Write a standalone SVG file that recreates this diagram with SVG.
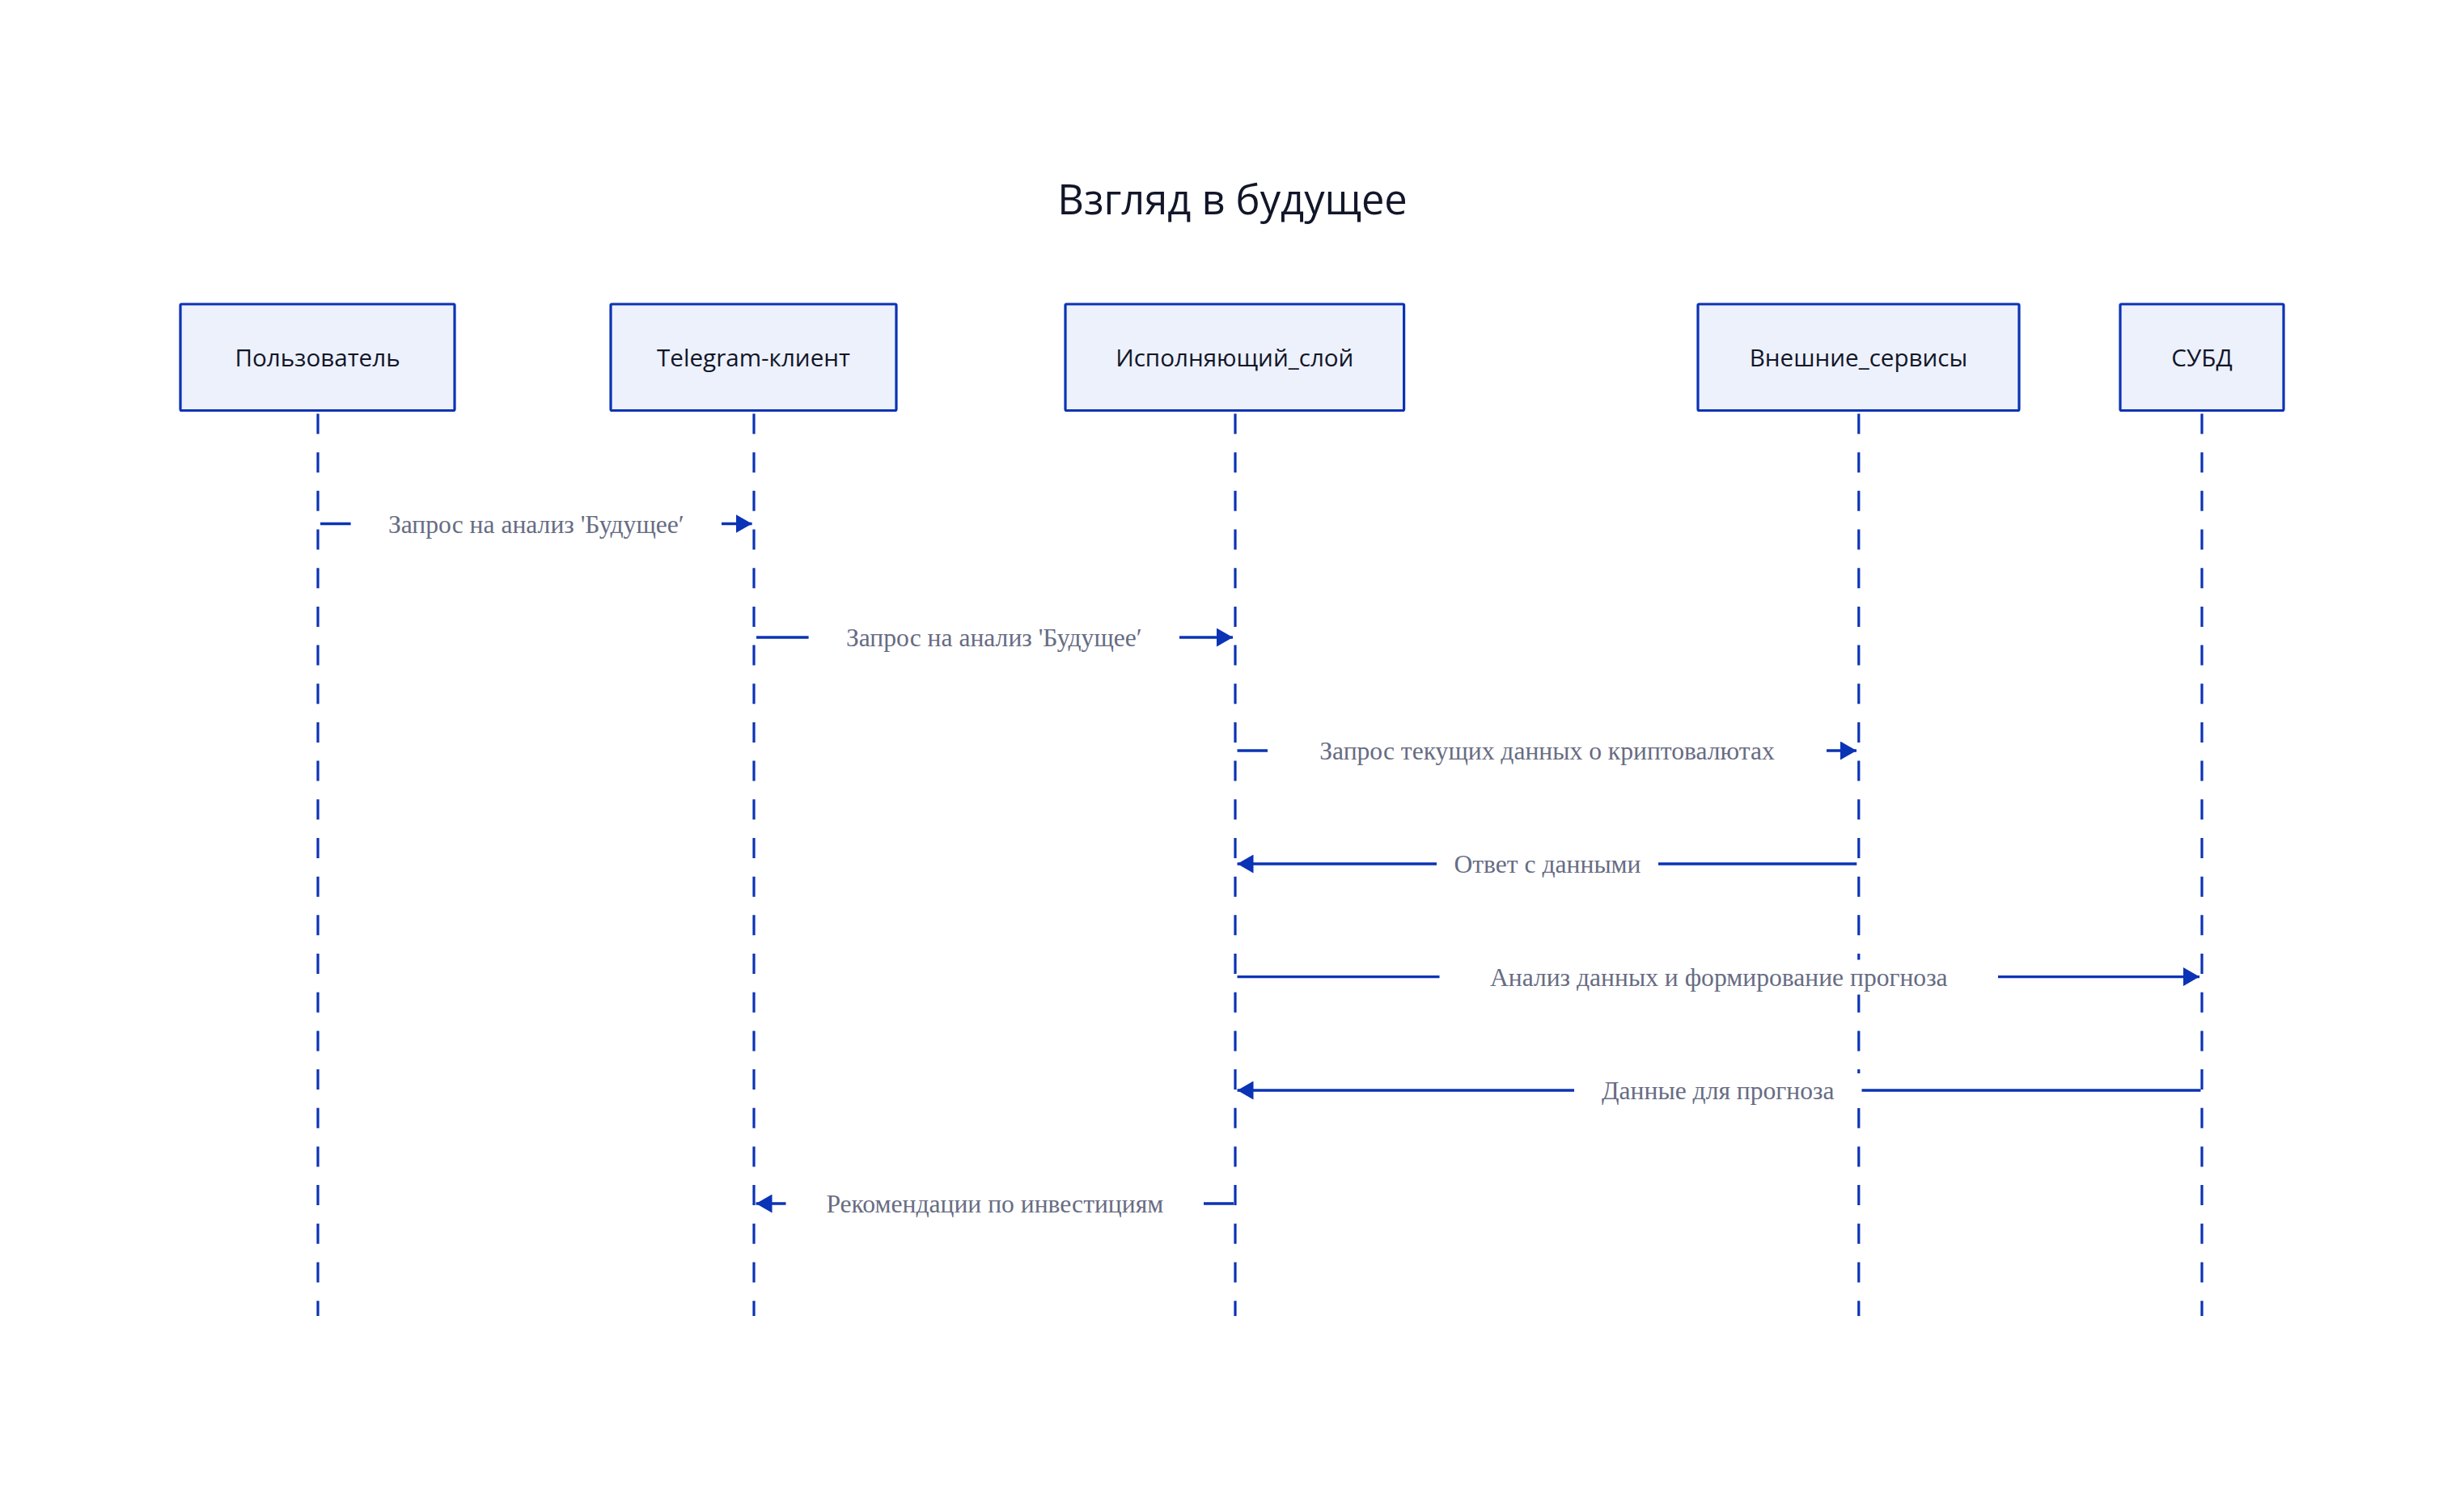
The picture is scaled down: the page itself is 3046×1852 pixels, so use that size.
<svg xmlns="http://www.w3.org/2000/svg" width="3046" height="1852" viewBox="0 0 3046 1852">
<defs>
<style>
.bg{fill:#ffffff}
.title{font-family:"Open Sans","Noto Sans",sans-serif;font-size:50.6px;fill:#121629;text-anchor:middle}
.actor rect{fill:#edf1fc;stroke:#0b33b5;stroke-width:3.2}
.actor text{font-family:"Open Sans","Noto Sans",sans-serif;font-size:29.6px;fill:#121629;text-anchor:middle}
.life{stroke:#0b33b5;stroke-width:3.2;stroke-dasharray:25 22.68;fill:none}
.msg{stroke:#0b33b5;stroke-width:3.4;fill:none}
.lblbg{fill:#ffffff}
.lbl{font-family:"Liberation Serif","Times New Roman",serif;font-size:31.6px;fill:#676c83;text-anchor:middle}
</style>
<marker id="arr" viewBox="0 0 20 23" refX="20" refY="11.5" markerWidth="20" markerHeight="23" markerUnits="userSpaceOnUse" orient="auto">
<path d="M0,0 L20,11.5 L0,23 Z" fill="#0b33b5"/>
</marker>
</defs>
<rect class="bg" x="0" y="0" width="3046" height="1852"/>
<text class="title" x="1523.5" y="265">Взгляд в будущее</text>

<g id="lifelines">
<line class="life" x1="393" y1="511.5" x2="393" y2="1627"/>
<line class="life" x1="932" y1="511.5" x2="932" y2="1627"/>
<line class="life" x1="1527" y1="511.5" x2="1527" y2="1627"/>
<line class="life" x1="2297.8" y1="511.5" x2="2297.8" y2="1627"/>
<line class="life" x1="2722" y1="511.5" x2="2722" y2="1627"/>
</g>

<g id="actor-user" class="actor">
<rect x="223" y="376" width="339" height="131.5" rx="1.5"/>
<text x="392.5" y="452.7">Пользователь</text>
</g>
<g id="actor-telegram" class="actor">
<rect x="755" y="376" width="353" height="131.5" rx="1.5"/>
<text x="931.5" y="452.7">Telegram-клиент</text>
</g>
<g id="actor-exec" class="actor">
<rect x="1317" y="376" width="418.6" height="131.5" rx="1.5"/>
<text x="1526.3" y="452.7">Исполняющий_слой</text>
</g>
<g id="actor-ext" class="actor">
<rect x="2099" y="376" width="397" height="131.5" rx="1.5"/>
<text x="2297.5" y="452.7">Внешние_сервисы</text>
</g>
<g id="actor-db" class="actor">
<rect x="2621" y="376" width="202" height="131.5" rx="1.5"/>
<text x="2722" y="452.7">СУБД</text>
</g>

<g id="connectors">
<line class="msg" x1="396" y1="647.5" x2="929.6" y2="647.5" marker-end="url(#arr)"/>
<line class="msg" x1="935" y1="788" x2="1524" y2="788" marker-end="url(#arr)"/>
<line class="msg" x1="1529.5" y1="928" x2="2295" y2="928" marker-end="url(#arr)"/>
<line class="msg" x1="2295.3" y1="1068" x2="1529.5" y2="1068" marker-end="url(#arr)"/>
<line class="msg" x1="1529.5" y1="1207.6" x2="2719" y2="1207.6" marker-end="url(#arr)"/>
<line class="msg" x1="2720.5" y1="1348" x2="1529.5" y2="1348" marker-end="url(#arr)"/>
<line class="msg" x1="1525" y1="1488" x2="934.5" y2="1488" marker-end="url(#arr)"/>
</g>

<g id="labels">
<g id="label-1">
<rect class="lblbg" x="433.6" y="626.5" width="458.4" height="43"/>
<text class="lbl" x="662.8" y="658.5">Запрос на анализ 'Будущее′</text>
</g>
<g id="label-2">
<rect class="lblbg" x="999.6" y="767" width="458.4" height="43"/>
<text class="lbl" x="1228.8" y="799">Запрос на анализ 'Будущее′</text>
</g>
<g id="label-3">
<rect class="lblbg" x="1567" y="907" width="691" height="43"/>
<text class="lbl" x="1912.5" y="939">Запрос текущих данных о криптовалютах</text>
</g>
<g id="label-4">
<rect class="lblbg" x="1776" y="1047" width="274" height="43"/>
<text class="lbl" x="1913" y="1079">Ответ с данными</text>
</g>
<g id="label-5">
<rect class="lblbg" x="1779.5" y="1186.6" width="690.5" height="43"/>
<text class="lbl" x="2124.8" y="1218.8">Анализ данных и формирование прогноза</text>
</g>
<g id="label-6">
<rect class="lblbg" x="1946" y="1327" width="355.5" height="43"/>
<text class="lbl" x="2123.8" y="1359">Данные для прогноза</text>
</g>
<g id="label-7">
<rect class="lblbg" x="971.5" y="1467" width="516.5" height="43"/>
<text class="lbl" x="1229.8" y="1499">Рекомендации по инвестициям</text>
</g>
</g>
</svg>
